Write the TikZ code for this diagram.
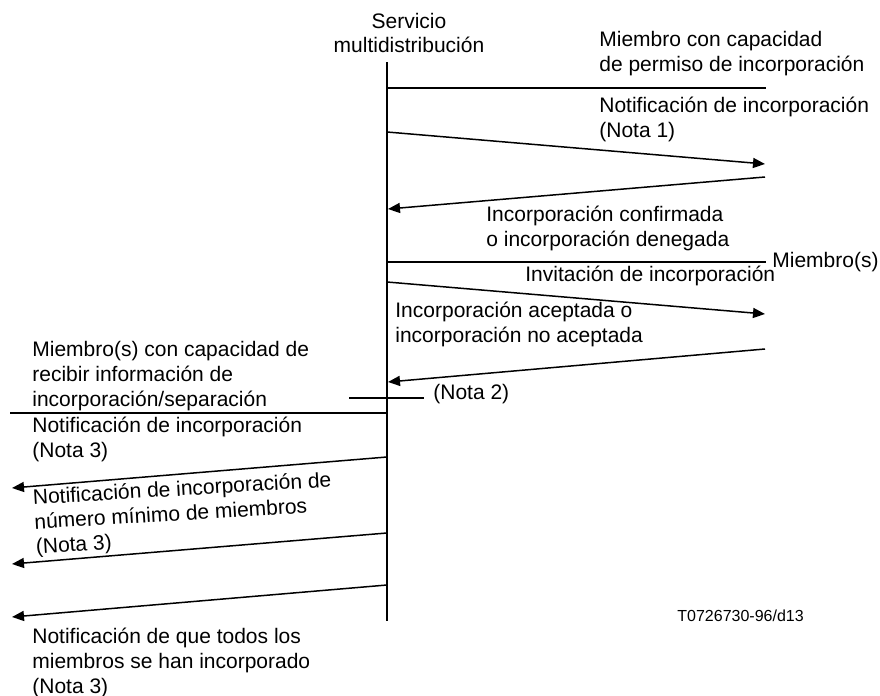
\documentclass[tikz,border=0pt]{standalone}
\usepackage{fontspec}
\setmainfont{Liberation Sans}
\usetikzlibrary{positioning}
\usetikzlibrary{arrows.meta}

\begin{document}
\begin{tikzpicture}[x=0.5pt, y=-0.5pt,
		lbl/.style={inner sep=0pt, align=left, anchor=base west, font=\fontsize{10.5}{12.3}\selectfont},
		line/.style={line width=1.3pt},
		arrow/.style={-{Triangle[length=6pt,width=5pt]}, line width=0.75pt}
	]
		\useasboundingbox (0,0) rectangle (880,696);

		% lifeline of the service
		\node[lbl, align=center, anchor=base] (srv) at (409,53) {Servicio\\multidistribución};
		\coordinate (srvtop) at (387,62);
		\coordinate (srvbot) at (387,621);
		\draw[line] (srvtop) -- (srvbot);

		% member with join permission
		\node[lbl] (perm) at (599,71) {Miembro con capacidad\\de permiso de incorporación};
		\coordinate (p0) at (387,88);
		\coordinate (p1) at (766,88);
		\draw[line] (p0) -- (p1);

		\node[lbl] (notif1) at (599,137) {Notificación de incorporación\\(Nota 1)};
		\coordinate (a1) at (387,132);
		\coordinate (b1) at (765,164);
		\draw[arrow] (a1) -- (b1);

		\coordinate (a2) at (765,177);
		\coordinate (b2) at (388,209);
		\draw[arrow] (a2) -- (b2);
		\node[lbl] (confirm) at (486,246) {Incorporación confirmada\\o incorporación denegada};

		% members
		\node[lbl, anchor=west, inner sep=3pt] (miembros) at (766,262) {Miembro(s)};
		\coordinate (m0) at (387,262);
		\draw[line] (m0) -- (miembros.west);

		\node[lbl] (invit) at (525,281) {Invitación de incorporación};
		\coordinate (a3) at (387,282);
		\coordinate (b3) at (765,314);
		\draw[arrow] (a3) -- (b3);

		\node[lbl] (acept) at (395,342) {Incorporación aceptada o\\incorporación no aceptada};
		\coordinate (a4) at (765,349);
		\coordinate (b4) at (388,382);
		\draw[arrow] (a4) -- (b4);

		\node[lbl, anchor=west, inner sep=0pt] (nota2) at (433,394) {(Nota 2)};
		\coordinate (n0) at (349,398);
		\draw[line] (n0) -- ([xshift=-4.5pt]nota2.west |- n0);

		% members receiving join/leave information
		\node[lbl] (recibir) at (32,406) {Miembro(s) con capacidad de\\recibir información de\\incorporación/separación};
		\coordinate (r0) at (10,413);
		\coordinate (r1) at (387,413);
		\draw[line] (r0) -- (r1);

		\node[lbl] (notif3) at (32,457) {Notificación de incorporación\\(Nota 3)};
		\coordinate (a5) at (387,457);
		\coordinate (b5) at (12,488);
		\draw[arrow] (a5) -- (b5);

		\node[lbl, rotate=3.5] (minimo) at (36,554) {Notificación de incorporación de\\número mínimo de miembros\\(Nota 3)};
		\coordinate (a6) at (387,533);
		\coordinate (b6) at (12,564);
		\draw[arrow] (a6) -- (b6);

		\coordinate (a7) at (387,585);
		\coordinate (b7) at (12,617);
		\draw[arrow] (a7) -- (b7);

		\node[lbl] (todos) at (32,693) {Notificación de que todos los\\miembros se han incorporado\\(Nota 3)};

		\node[lbl, font=\fontsize{8}{10}\selectfont] (ref) at (677,621) {T0726730-96/d13};
	\end{tikzpicture}
\end{document}
